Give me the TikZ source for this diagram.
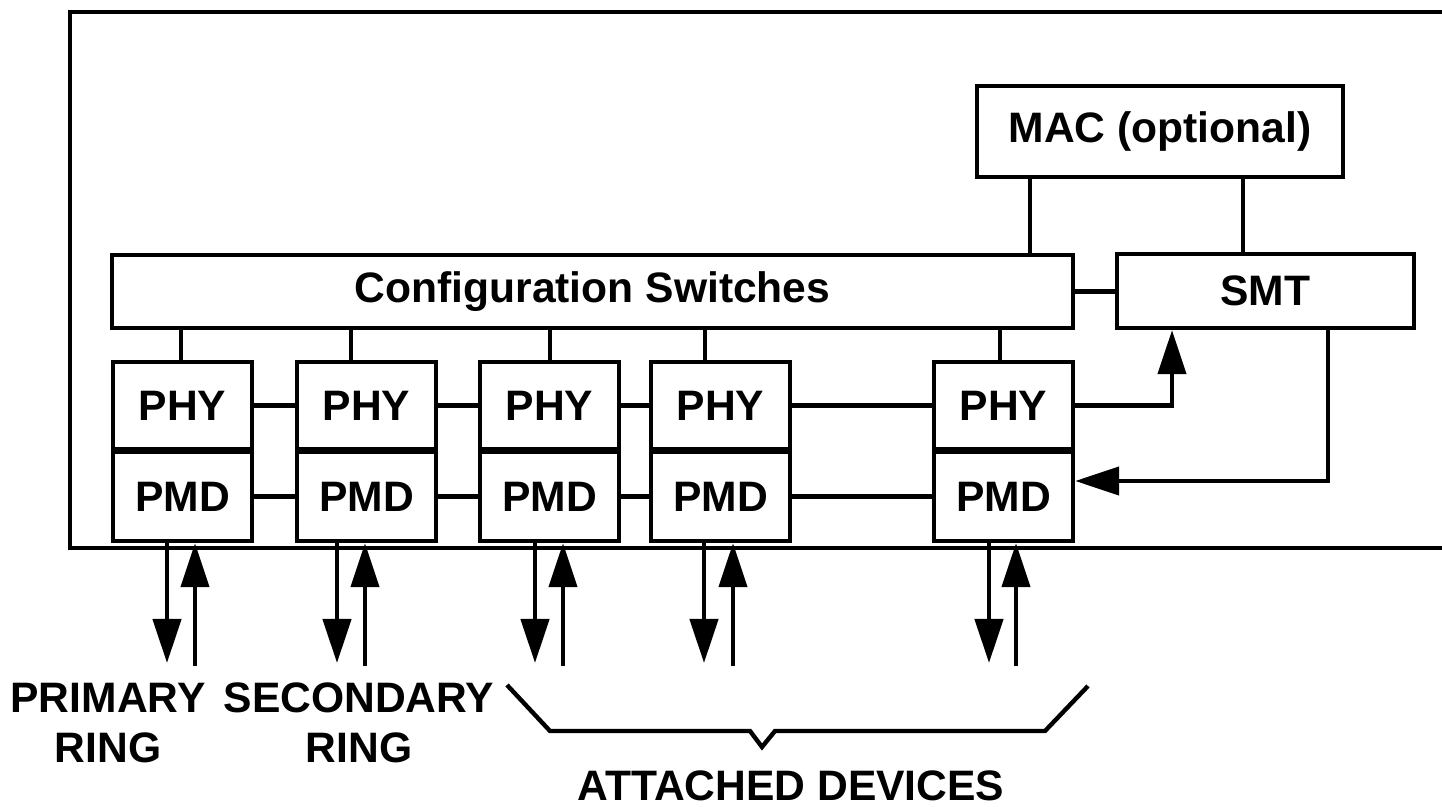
\documentclass[tikz,border=0pt]{standalone}
\usepackage{fontspec}
\setmainfont{Liberation Sans}
\usetikzlibrary{arrows.meta}

\begin{document}
\begin{tikzpicture}[x=0.5pt,y=-0.5pt,line width=2.2pt,
		box/.style={draw, rectangle, inner sep=0pt, font=\bfseries\fontsize{21.3}{25}\selectfont},
		lbl/.style={inner sep=0pt, align=center, font=\bfseries\fontsize{21.3}{25}\selectfont},
		arr/.style={-{Triangle[length=22pt,width=14pt]}}]
	% Fix the page size
	\useasboundingbox (0,0) rectangle (1442,807);
	
	% Draw the open frame
	\draw[line join=miter] (1442,12) -- (70,12) -- (70,548) -- (1442,548);
	
	% Draw the upper boxes
	\node[box, minimum width=183pt, minimum height=45.5pt] (mac) at (1160,131.5) {MAC (optional)};
	\node[box, minimum width=480.5pt, minimum height=36.5pt] (cfg) at (592.5,291.5) {Configuration Switches};
	\node[box, minimum width=148.5pt, minimum height=37pt] (smt) at (1265.5,291) {SMT};
	
	% Draw the PHY/PMD stacks with their ports
	\foreach \i/\xc/\xs/\xd/\xu in {1/182.5/181/167/195, 2/366.5/351/337/365, 3/549.5/550/535/563, 4/720.5/705/704/733, 5/1003.5/1000/989/1016} {
		\node[box, minimum width=69.5pt, minimum height=43.5pt] (phy\i) at (\xc,405.5) {PHY};
		\node[box, minimum width=69.5pt, minimum height=44.5pt] (pmd\i) at (\xc,496.5) {PMD};
		\coordinate (sw\i) at (\xs,0);
		\draw (cfg.south -| sw\i) -- (phy\i.north -| sw\i);
		\coordinate (dn\i) at (\xd,663);
		\coordinate (up\i) at (\xu,666);
		\draw[arr] (pmd\i.south -| dn\i) -- (dn\i);
		\draw[arr] (up\i) -- (pmd\i.south -| up\i);
	}
	
	% Links between neighbours
	\foreach \i/\j in {1/2,2/3,3/4,4/5} {
		\draw (phy\i) -- (phy\j);
		\draw (pmd\i) -- (pmd\j);
	}
	
	% MAC and SMT links
	\coordinate (m1) at (1030,0);
	\coordinate (m2) at (1243,0);
	\draw (mac.south -| m1) -- (cfg.north -| m1);
	\draw (mac.south -| m2) -- (smt.north -| m2);
	\draw (cfg.east) -- (cfg.east -| smt.west);
	
	% Loop through SMT
	\coordinate (s1) at (1172,0);
	\coordinate (s2) at (1328,481);
	\draw[arr] (phy5.east) -| (smt.south -| s1);
	\draw[arr] (smt.south -| s2) |- (pmd5.east |- s2);
	
	% Labels
	\node[lbl] (pri) at (108,723) {PRIMARY\\RING};
	\node[lbl] (sec) at (359,723) {SECONDARY\\RING};
	\node[lbl] (att) at (791,786) {ATTACHED DEVICES};
	
	% Brace over the attached devices
	\draw[line join=miter] (507,685) -- (550,731) -- (750,731) -- (762,747) -- (775,731) -- (1045,731) -- (1088,686);
\end{tikzpicture}
\end{document}
